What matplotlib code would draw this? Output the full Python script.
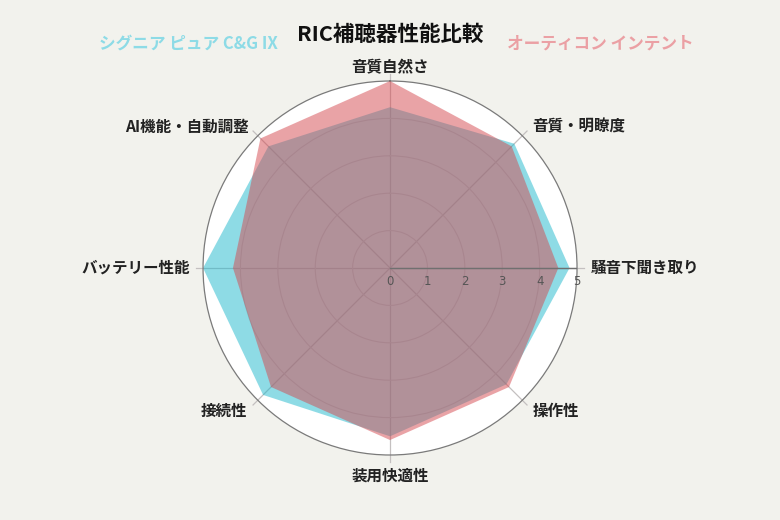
import numpy as np
import matplotlib
matplotlib.use("Agg")
import matplotlib.pyplot as plt

plt.rcParams['font.family'] = ['Noto Sans CJK JP', 'DejaVu Sans']

categories = ['音質自然さ', '音質・明瞭度', '騒音下聞き取り', '操作性',
              '装用快適性', '接続性', 'バッテリー性能', 'AI機能・自動調整']
signia = [4.3, 4.7, 4.8, 4.4, 4.5, 4.8, 5.0, 4.6]
oticon = [5.0, 4.6, 4.5, 4.5, 4.6, 4.5, 4.2, 4.9]
series_names = ['シグニア ピュア C&G IX', 'オーティコン インテント']
r_ticks = [0, 1, 2, 3, 4, 5]
title = 'RIC補聴器性能比較'

bg = '#f2f2ed'
cyan = '#1fb8cc'
red = '#d5484f'

fig = plt.figure(figsize=(7.8, 5.2), dpi=100, facecolor=bg)
ax = fig.add_axes([0.2603, 0.125, 0.4795, 0.7192], projection='polar')
ax.set_facecolor('white')
ax.set_theta_zero_location('N')
ax.set_theta_direction(-1)
ax.set_ylim(0, 5)

n = len(categories)
angles = np.linspace(0, 2 * np.pi, n, endpoint=False)
ang_c = np.concatenate([angles, angles[:1]])

ax.set_xticks([])
ax.set_yticks(r_ticks[1:-1])
ax.set_yticklabels([])
ax.yaxis.grid(True, color='#d9d3d3', lw=0.8)
ax.xaxis.grid(False)
ax.spines['polar'].set_color('#7a7a7a')
ax.spines['polar'].set_linewidth(0.9)

# spokes
for a in angles:
    ax.plot([a, a], [0, 5.18], color='#c4c0c0', lw=0.9, clip_on=False, zorder=1)

s_vals = np.concatenate([signia, signia[:1]])
o_vals = np.concatenate([oticon, oticon[:1]])
ax.fill(ang_c, s_vals, color=cyan, alpha=0.5, lw=0, zorder=2)
ax.fill(ang_c, o_vals, color=red, alpha=0.5, lw=0, zorder=3)

# radial axis on the right
ax.plot([np.pi / 2, np.pi / 2], [0, 5], color='#707070', lw=1.0, zorder=4)
for v in r_ticks:
    ax.annotate(str(v), xy=(np.pi / 2, v), xytext=(0, -5), textcoords='offset points',
                ha='center', va='top', fontsize=8.5, color='#555555',
                family=['DejaVu Sans'], zorder=5, annotation_clip=False)

# category labels
for a, lab in zip(angles, categories):
    s = np.sin(a)
    c = np.cos(a)
    if abs(s) < 1e-6:
        ha = 'center'
    elif s > 0:
        ha = 'left'
    else:
        ha = 'right'
    r = 5.36 if c > -0.9 else 5.55
    if -0.9 < c < -0.5:
        r = 5.4
    ax.text(a, r, lab, ha=ha, va='center', fontsize=11.2,
            fontweight='bold', color='#222222')

fig.text(0.5, 0.933, title, ha='center', va='center', fontsize=15.5,
         fontweight='bold', color='#111111')
fig.text(0.242, 0.917, series_names[0], ha='center', va='center', fontsize=12,
         fontweight='bold', color='#8ddbe6')
fig.text(0.770, 0.917, series_names[1], ha='center', va='center', fontsize=12,
         fontweight='bold', color='#eba0a4')

fig.savefig('out.png', dpi=100, facecolor=bg)
